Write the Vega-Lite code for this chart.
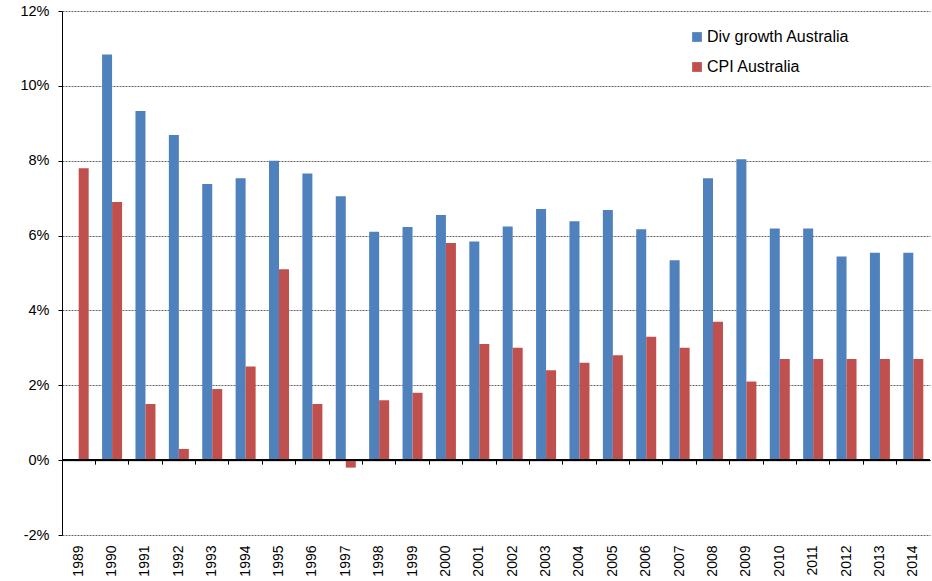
{
  "$schema": "https://vega.github.io/schema/vega-lite/v6.json",
  "width": 868,
  "height": 524,
  "autosize": {"type": "none"},
  "padding": {"left": 62, "top": 11, "right": 2, "bottom": 46},
  "background": "white",
  "config": {
    "view": {"stroke": null},
    "font": "Liberation Sans",
    "axis": {"labelFont": "Liberation Sans", "labelFontSize": 14, "labelColor": "#000"},
    "legend": {"labelFont": "Liberation Sans"}
  },
  "data": {
    "values": [
      {"year": "1989", "series": "CPI Australia", "value": 7.8},
      {"year": "1990", "series": "Div growth Australia", "value": 10.84},
      {"year": "1990", "series": "CPI Australia", "value": 6.9},
      {"year": "1991", "series": "Div growth Australia", "value": 9.33},
      {"year": "1991", "series": "CPI Australia", "value": 1.5},
      {"year": "1992", "series": "Div growth Australia", "value": 8.69},
      {"year": "1992", "series": "CPI Australia", "value": 0.3},
      {"year": "1993", "series": "Div growth Australia", "value": 7.38},
      {"year": "1993", "series": "CPI Australia", "value": 1.9},
      {"year": "1994", "series": "Div growth Australia", "value": 7.53},
      {"year": "1994", "series": "CPI Australia", "value": 2.5},
      {"year": "1995", "series": "Div growth Australia", "value": 8.0},
      {"year": "1995", "series": "CPI Australia", "value": 5.1},
      {"year": "1996", "series": "Div growth Australia", "value": 7.66},
      {"year": "1996", "series": "CPI Australia", "value": 1.5},
      {"year": "1997", "series": "Div growth Australia", "value": 7.05},
      {"year": "1997", "series": "CPI Australia", "value": -0.2},
      {"year": "1998", "series": "Div growth Australia", "value": 6.1},
      {"year": "1998", "series": "CPI Australia", "value": 1.6},
      {"year": "1999", "series": "Div growth Australia", "value": 6.23},
      {"year": "1999", "series": "CPI Australia", "value": 1.8},
      {"year": "2000", "series": "Div growth Australia", "value": 6.55},
      {"year": "2000", "series": "CPI Australia", "value": 5.8},
      {"year": "2001", "series": "Div growth Australia", "value": 5.84},
      {"year": "2001", "series": "CPI Australia", "value": 3.1},
      {"year": "2002", "series": "Div growth Australia", "value": 6.24},
      {"year": "2002", "series": "CPI Australia", "value": 3.0},
      {"year": "2003", "series": "Div growth Australia", "value": 6.71},
      {"year": "2003", "series": "CPI Australia", "value": 2.4},
      {"year": "2004", "series": "Div growth Australia", "value": 6.38},
      {"year": "2004", "series": "CPI Australia", "value": 2.6},
      {"year": "2005", "series": "Div growth Australia", "value": 6.68},
      {"year": "2005", "series": "CPI Australia", "value": 2.8},
      {"year": "2006", "series": "Div growth Australia", "value": 6.17},
      {"year": "2006", "series": "CPI Australia", "value": 3.3},
      {"year": "2007", "series": "Div growth Australia", "value": 5.34},
      {"year": "2007", "series": "CPI Australia", "value": 3.0},
      {"year": "2008", "series": "Div growth Australia", "value": 7.53},
      {"year": "2008", "series": "CPI Australia", "value": 3.7},
      {"year": "2009", "series": "Div growth Australia", "value": 8.04},
      {"year": "2009", "series": "CPI Australia", "value": 2.1},
      {"year": "2010", "series": "Div growth Australia", "value": 6.19},
      {"year": "2010", "series": "CPI Australia", "value": 2.7},
      {"year": "2011", "series": "Div growth Australia", "value": 6.19},
      {"year": "2011", "series": "CPI Australia", "value": 2.7},
      {"year": "2012", "series": "Div growth Australia", "value": 5.44},
      {"year": "2012", "series": "CPI Australia", "value": 2.7},
      {"year": "2013", "series": "Div growth Australia", "value": 5.54},
      {"year": "2013", "series": "CPI Australia", "value": 2.7},
      {"year": "2014", "series": "Div growth Australia", "value": 5.54},
      {"year": "2014", "series": "CPI Australia", "value": 2.7}
    ]
  },
  "layer": [
    {
      "mark": {"type": "bar"},
      "encoding": {
        "x": {
          "field": "year",
          "type": "ordinal",
          "scale": {"paddingInner": 0, "paddingOuter": 0},
          "axis": {"title": null, "domain": false, "ticks": false, "labelAngle": -90, "labelPadding": 10}
        },
        "xOffset": {
          "field": "series",
          "sort": ["Div growth Australia", "CPI Australia"],
          "scale": {"paddingInner": 0, "paddingOuter": 0.67}
        },
        "y": {
          "field": "value",
          "type": "quantitative",
          "scale": {"domain": [-2, 12], "nice": false, "zero": false},
          "axis": {
            "title": null,
            "values": [-2, 0, 2, 4, 6, 8, 10, 12],
            "labelExpr": "datum.value + '%'",
            "labelFontSize": 14.5,
            "grid": true,
            "gridColor": "#666666",
            "gridDash": [2, 1],
            "domainColor": "#000",
            "tickColor": "#000",
            "tickSize": 4,
            "labelPadding": 9
          }
        },
        "color": {
          "field": "series",
          "type": "nominal",
          "scale": {"domain": ["Div growth Australia", "CPI Australia"], "range": ["#4F81BD", "#C0504D"]},
          "legend": {
            "title": null,
            "orient": "none",
            "legendX": 627,
            "legendY": 18,
            "symbolType": "square",
            "symbolSize": 95,
            "symbolStrokeWidth": 0,
            "labelFontSize": 16,
            "labelColor": "#000",
            "rowPadding": 14,
            "labelOffset": 2
          }
        }
      }
    },
    {
      "mark": {"type": "point", "opacity": 0},
      "encoding": {
        "x": {
          "field": "year",
          "type": "ordinal",
          "axis": {
            "title": null,
            "orient": "bottom",
            "labels": false,
            "ticks": true,
            "domain": true,
            "domainColor": "#000",
            "tickColor": "#000",
            "tickSize": 4,
            "bandPosition": 0,
            "offset": -74.857
          }
        },
        "y": {"datum": 0}
      }
    },
    {
      "mark": {"type": "rule", "color": "#000"},
      "encoding": {"y": {"datum": 0}}
    }
  ],
  "resolve": {"axis": {"x": "independent"}}
}
